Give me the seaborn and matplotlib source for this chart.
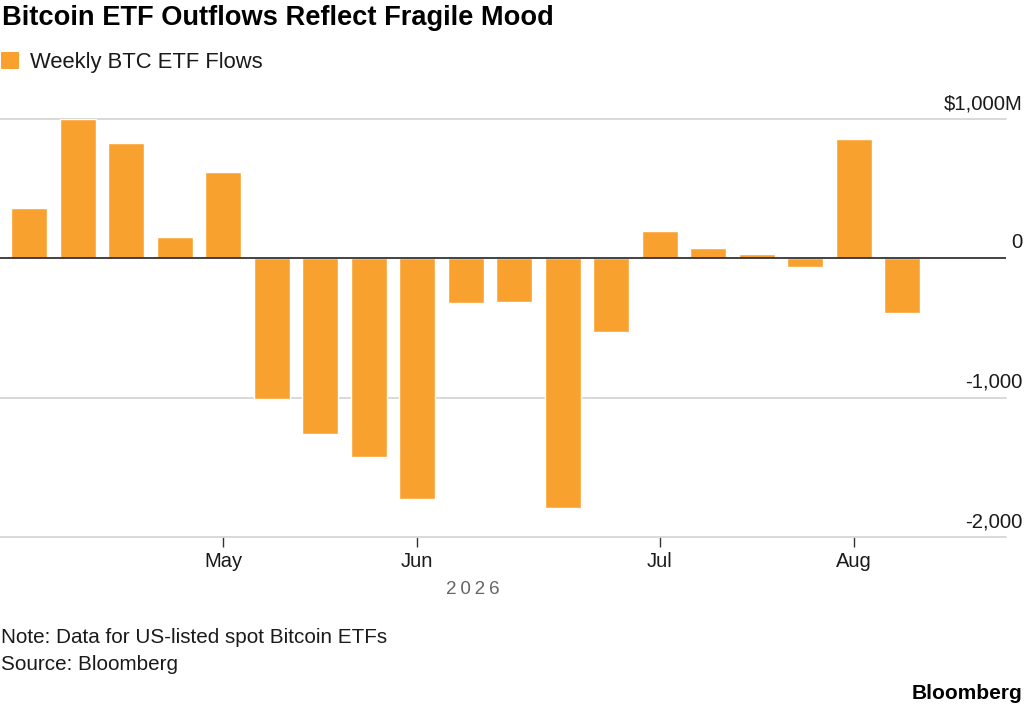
import matplotlib
matplotlib.use("Agg")
import matplotlib.pyplot as plt
import matplotlib.transforms as mtransforms
import seaborn as sns
import pandas as pd

# ---- data ----
weeks = ["2026-04-06", "2026-04-13", "2026-04-20", "2026-04-27", "2026-05-04",
         "2026-05-11", "2026-05-18", "2026-05-25", "2026-06-01", "2026-06-08",
         "2026-06-15", "2026-06-22", "2026-06-29", "2026-07-06", "2026-07-13",
         "2026-07-20", "2026-07-27", "2026-08-03", "2026-08-10"]
flows = [359, 998, 826, 153, 622, -1010, -1259, -1426, -1725, -319,
         -316, -1795, -527, 196, 74, 31, -65, 854, -393]
y_ticks = [1000, 0, -1000, -2000]
y_tick_labels = ["$1,000M", "0", "-1,000", "-2,000"]
series_name = "Weekly BTC ETF Flows"
year_label = "2026"
title = "Bitcoin ETF Outflows Reflect Fragile Mood"
note = "Note: Data for US-listed spot Bitcoin ETFs"
source = "Source: Bloomberg"

BAR = "#F9A12E"
W, H = 1024, 706

sns.set_theme(style="white")
plt.rcParams["font.family"] = ["Liberation Sans", "DejaVu Sans"]

fig = plt.figure(figsize=(W / 100, H / 100), dpi=100)
ax = fig.add_axes([0, 1 - 537 / H, 1006 / W, (537 - 119) / H])

df = pd.DataFrame({"week": weeks, "flow": flows})
sns.barplot(data=df, x="week", y="flow", color=BAR, saturation=1, width=0.742,
            ax=ax, label=series_name, zorder=2)

ax.set_xlim(-0.598, 20.14)
ax.set_ylim(-2000, 1000)

# gridlines
for v in y_ticks:
    if v == 0:
        ax.axhline(v, color="#222222", lw=1.2, zorder=3)
    else:
        ax.axhline(v, color="#d2d2d2", lw=1.2, zorder=1, clip_on=False)

# y labels above gridlines at right
trans = mtransforms.blended_transform_factory(ax.transAxes, ax.transData)
trans = mtransforms.offset_copy(trans, fig=fig, x=0, y=10, units="dots")
for v, lab in zip(y_ticks, y_tick_labels):
    ax.text(1022 / 1006, v, lab, transform=trans, ha="right", va="baseline",
            fontsize=14.6, color="#1a1a1a")

# month ticks at the first week of each month
dates = pd.to_datetime(weeks)
tick_pos = [i for i in range(1, len(dates)) if dates[i].month != dates[i - 1].month]
tick_lab = [dates[i].strftime("%b") for i in tick_pos]
ax.set_xticks(tick_pos)
ax.set_xticklabels(tick_lab)
ax.set_yticks([])
ax.tick_params(axis="x", bottom=True, direction="out", length=7, width=1,
               color="#333333", labelsize=14.5, labelcolor="#1a1a1a", pad=4)
ax.set_xlabel("")
ax.set_ylabel("")
for s in ax.spines.values():
    s.set_visible(False)

# legend
leg = ax.legend(loc="upper left", bbox_to_anchor=(2 / W, 1 - 52 / H),
                bbox_transform=fig.transFigure, frameon=False, fontsize=15.8,
                handlelength=0.72, handleheight=0.72, handletextpad=0.55,
                borderpad=0, borderaxespad=0)
for t in leg.get_texts():
    t.set_color("#1a1a1a")
for p in leg.get_patches():
    p.set_joinstyle("round")
    p.set_edgecolor(BAR)
    p.set_linewidth(1.5)

# texts
fig.text(2 / W, 1 - 25 / H, title, fontsize=19.6, fontweight="bold",
         ha="left", va="baseline", color="#000000")
fig.text(473 / W, 1 - 594 / H, "\u2009".join(year_label), fontsize=13.6,
         color="#666666", ha="center", va="baseline")
fig.text(1 / W, 1 - 643 / H, note, fontsize=14.9, color="#1a1a1a",
         ha="left", va="baseline")
fig.text(1 / W, 1 - 670 / H, source, fontsize=14.9, color="#1a1a1a",
         ha="left", va="baseline")
fig.text(1022 / W, 1 - 699 / H, "Bloomberg", fontsize=15, fontweight="bold",
         color="#000000", ha="right", va="baseline")

fig.savefig("out.png", dpi=100)
